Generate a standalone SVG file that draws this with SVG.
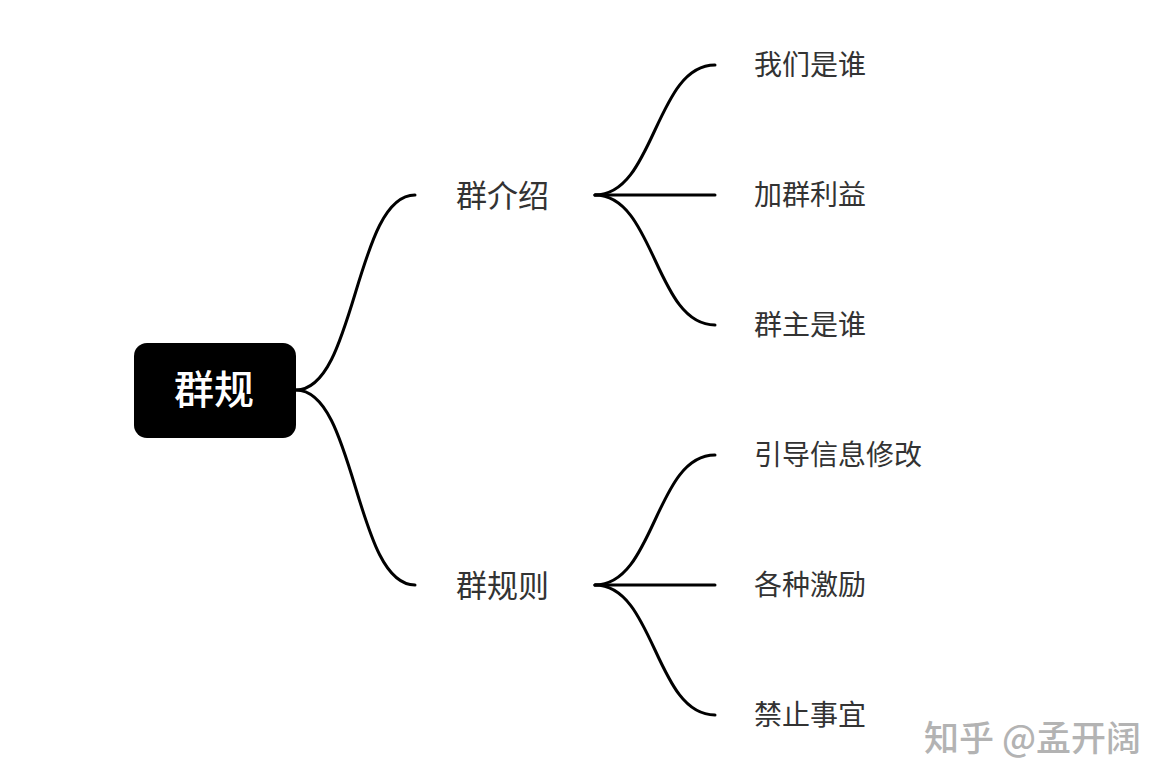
<svg xmlns="http://www.w3.org/2000/svg" width="1172" height="784" viewBox="0 0 1172 784">
  <style>
    .conn { fill: none; stroke: #000; stroke-width: 3; stroke-linecap: round; }
    .root { fill: #000; }
    .rootText { fill: #fff; font-family: "Noto Sans CJK SC", sans-serif; font-size: 40px; font-weight: 500; }
    .l1 { fill: #333; font-family: "Noto Sans CJK SC", sans-serif; font-size: 31px; }
    .leaf { fill: #333; font-family: "Noto Sans CJK SC", sans-serif; font-size: 28px; }
    .wm { fill: #b3b3b3; font-family: "Noto Sans CJK SC", sans-serif; font-size: 35px; font-weight: 500; }
  </style>
  <rect width="1172" height="784" fill="#fff"/>
  <g id="connectors">
    <path class="conn" d="M296 390 C356 390 355 195 415 195"/>
    <path class="conn" d="M296 390 C356 390 355 585 415 585"/>
    <path class="conn" d="M595 195 C655 195 655 65 715 65"/>
    <path class="conn" d="M595 195 H715"/>
    <path class="conn" d="M595 195 C655 195 655 325 715 325"/>
    <path class="conn" d="M595 585 C655 585 655 455 715 455"/>
    <path class="conn" d="M595 585 H715"/>
    <path class="conn" d="M595 585 C655 585 655 715 715 715"/>
  </g>
  <g id="root">
    <rect class="root" x="134" y="343" width="162" height="95" rx="13"/>
    <text class="rootText" x="214" y="387" text-anchor="middle" dominant-baseline="central">群规</text>
  </g>
  <g id="n-intro"><text class="l1" x="456" y="193" dominant-baseline="central">群介绍</text></g>
  <g id="n-rules"><text class="l1" x="456" y="583" dominant-baseline="central">群规则</text></g>
  <g id="n-who"><text class="leaf" x="754" y="63" dominant-baseline="central">我们是谁</text></g>
  <g id="n-benefit"><text class="leaf" x="754" y="193" dominant-baseline="central">加群利益</text></g>
  <g id="n-owner"><text class="leaf" x="754" y="323" dominant-baseline="central">群主是谁</text></g>
  <g id="n-guide"><text class="leaf" x="754" y="453" dominant-baseline="central">引导信息修改</text></g>
  <g id="n-incent"><text class="leaf" x="754" y="583" dominant-baseline="central">各种激励</text></g>
  <g id="n-ban"><text class="leaf" x="754" y="713" dominant-baseline="central">禁止事宜</text></g>
  <text class="wm" x="924" y="735" dominant-baseline="central">知乎 @孟开阔</text>
</svg>
